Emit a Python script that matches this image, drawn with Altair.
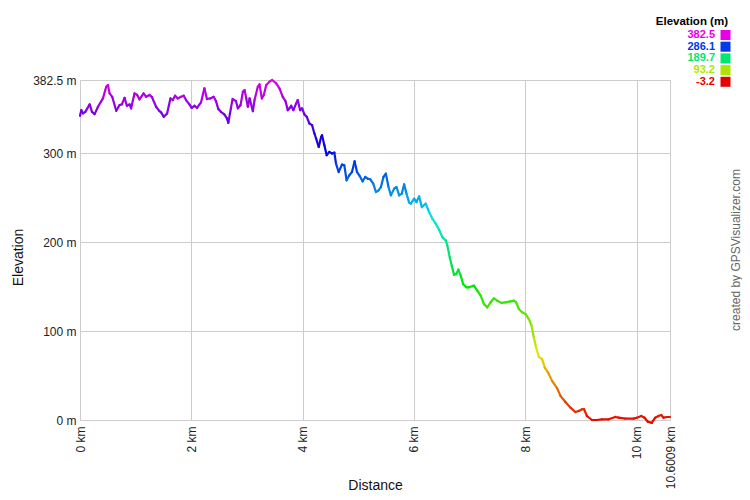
import altair as alt
import pandas as pd
import numpy as np

dist_km = [0.0, 0.023, 0.054, 0.095, 0.174, 0.215, 0.263, 0.323, 0.412, 0.471,
           0.502, 0.532, 0.579, 0.651, 0.711, 0.753, 0.801, 0.842, 0.891, 0.919,
           0.980, 1.027, 1.070, 1.142, 1.188, 1.249, 1.290, 1.367, 1.428, 1.457,
           1.505, 1.565, 1.625, 1.667, 1.708, 1.756, 1.815, 1.864, 1.905, 1.966,
           2.007, 2.056, 2.102, 2.174, 2.235, 2.281, 2.342, 2.401, 2.443, 2.486,
           2.532, 2.593, 2.640, 2.665, 2.711, 2.742, 2.801, 2.837, 2.885, 2.927,
           2.957, 2.987, 3.016, 3.047, 3.106, 3.136, 3.195, 3.226, 3.267, 3.303,
           3.346, 3.405, 3.453, 3.525, 3.584, 3.643, 3.692, 3.733, 3.763, 3.794,
           3.835, 3.884, 3.912, 3.955, 3.991, 4.032, 4.074, 4.122, 4.170, 4.211,
           4.242, 4.289, 4.332, 4.349, 4.391, 4.432, 4.480, 4.529, 4.570, 4.600,
           4.647, 4.708, 4.749, 4.790, 4.839, 4.887, 4.934, 4.977, 5.018, 5.077,
           5.125, 5.167, 5.215, 5.269, 5.317, 5.364, 5.407, 5.453, 5.496, 5.543,
           5.586, 5.645, 5.686, 5.735, 5.783, 5.824, 5.866, 5.914, 5.944, 6.004,
           6.045, 6.093, 6.142, 6.213, 6.272, 6.332, 6.392, 6.452, 6.511, 6.572,
           6.600, 6.643, 6.679, 6.720, 6.762, 6.797, 6.841, 6.882, 6.941, 6.989,
           7.079, 7.138, 7.199, 7.258, 7.317, 7.378, 7.437, 7.496, 7.575, 7.647,
           7.737, 7.796, 7.837, 7.885, 7.945, 8.005, 8.065, 8.113, 8.154, 8.195,
           8.244, 8.303, 8.351, 8.410, 8.482, 8.572, 8.633, 8.722, 8.812, 8.901,
           8.961, 9.020, 9.056, 9.109, 9.199, 9.289, 9.378, 9.498, 9.618, 9.677,
           9.798, 9.946, 10.005, 10.084, 10.143, 10.203, 10.274, 10.335, 10.394, 10.444,
           10.484, 10.544, 10.6009]

elev_m = [342.2, 348.6, 344.9, 346.7, 355.1, 346.7, 344.1, 352.4, 361.8, 374.9,
          376.8, 367.5, 363.6, 347.9, 354.3, 355.1, 362.5, 353.5, 355.1, 350.6,
          367.5, 365.6, 360.7, 367.5, 363.6, 365.6, 363.6, 352.4, 347.5, 346.0,
          341.1, 344.9, 361.8, 359.9, 364.8, 361.8, 363.6, 364.8, 359.9, 355.1,
          351.2, 353.5, 351.2, 357.3, 373.1, 361.1, 361.8, 363.6, 358.8, 349.8,
          346.7, 343.8, 339.3, 334.3, 350.6, 361.1, 358.8, 350.6, 354.3, 369.3,
          371.2, 361.8, 352.4, 361.8, 347.5, 359.9, 374.9, 377.6, 361.8, 365.6,
          376.9, 380.6, 382.5, 378.8, 373.1, 363.6, 358.8, 348.6, 350.6, 353.5,
          348.6, 356.2, 359.9, 348.6, 350.6, 343.8, 341.1, 333.6, 331.7, 322.4,
          316.7, 307.2, 318.5, 320.4, 309.2, 297.9, 301.6, 299.8, 300.9, 288.5,
          279.0, 287.4, 286.6, 269.7, 275.3, 279.0, 291.1, 279.0, 275.3, 268.5,
          273.4, 271.6, 270.8, 265.9, 256.5, 258.4, 262.1, 273.4, 277.2, 262.1,
          252.7, 260.3, 262.1, 252.7, 254.7, 265.1, 254.7, 244.5, 243.4, 249.0,
          245.2, 251.6, 239.5, 243.4, 233.9, 226.4, 220.8, 214.0, 205.7, 202.0,
          196.3, 183.1, 173.8, 163.3, 164.4, 169.2, 162.5, 153.1, 149.3, 149.3,
          151.2, 145.6, 139.9, 130.5, 126.7, 132.4, 136.9, 134.3, 131.7, 132.4,
          133.5, 134.3, 132.4, 124.9, 121.1, 119.3, 113.6, 106.1, 92.9, 81.6,
          71.1, 68.5, 59.0, 53.4, 44.0, 35.8, 27.1, 20.3, 13.9, 9.0,
          10.2, 12.1, 12.1, 4.5, 0.0, 0.0, 0.8, 0.8, 3.4, 2.6,
          1.5, 1.5, 2.6, 4.5, 2.6, -1.9, -3.2, 2.6, 4.5, 5.6,
          2.6, 3.4, 3.4]

x_ticks = [0, 2, 4, 6, 8, 10, 10.6009]
y_ticks = [0, 100, 200, 300, 382.5]
legend_vals = [382.5, 286.1, 189.7, 93.2, -3.2]
hue_colors = ["#e60000", "#e6e600", "#00e600", "#00e6e6", "#0000e6", "#e600e6"]

FONT = "Liberation Sans"

# ---- tables ----
seg = pd.DataFrame({
    "x": dist_km[:-1], "x2": dist_km[1:],
    "y": elev_m[:-1], "y2": elev_m[1:],
})
seg["mid"] = (seg["y"] + seg["y2"]) / 2

lo, hi = min(legend_vals), max(legend_vals)
color_scale = alt.Scale(domain=list(np.linspace(lo, hi, len(hue_colors))),
                        range=hue_colors, interpolate="rgb")

legend_df = pd.DataFrame({"val": legend_vals, "row": list(range(len(legend_vals)))})
legend_df["label"] = [f"{v:.1f}" for v in legend_vals]

# ---- profile ----
profile = alt.Chart(seg).mark_rule(strokeWidth=2.2, strokeCap="round").encode(
    x=alt.X("x:Q",
            scale=alt.Scale(domain=[0, 10.6009], nice=False, zero=False),
            axis=alt.Axis(values=x_ticks, labelExpr="datum.value + ' km'",
                          labelAngle=270, labelPadding=6, labelFlush=False,
                          labelOverlap=False, ticks=False,
                          labelFont=FONT, labelFontSize=12, labelColor="#222",
                          grid=True, gridColor="#cccccc", domainColor="#cccccc",
                          title="Distance", titleFont=FONT, titleFontSize=14,
                          titleFontWeight="normal", titleColor="#111",
                          titleY=72, titleBaseline="bottom")),
    x2="x2:Q",
    y=alt.Y("y:Q",
            scale=alt.Scale(domain=[0, 382.5], nice=False, zero=False),
            axis=alt.Axis(values=y_ticks, labelExpr="datum.value + ' m'",
                          labelPadding=4, labelFlush=False, labelOverlap=False,
                          ticks=False, labelFont=FONT, labelFontSize=12,
                          labelColor="#222",
                          grid=True, gridColor="#cccccc", domainColor="#cccccc",
                          title="Elevation", titleFont=FONT, titleFontSize=14,
                          titleFontWeight="normal", titleColor="#111",
                          titleX=-55, titleY=177, titleAngle=270,
                          titleBaseline="bottom", titleAlign="center")),
    y2="y2:Q",
    color=alt.Color("mid:Q", scale=color_scale, legend=None),
)

# ---- hand-built legend ----
legend_title = alt.Chart(pd.DataFrame({"t": ["Elevation (m)"]})).mark_text(
    font=FONT, fontSize=11.5, fontWeight="bold", align="right", baseline="middle",
    color="#000").encode(text="t:N", x=alt.value(648), y=alt.value(-58))

legend_base = alt.Chart(legend_df).transform_calculate(
    py="-45 + 11.7 * datum.row")

legend_text = legend_base.mark_text(
    font=FONT, fontSize=11, fontWeight="bold", align="right", baseline="middle"
).encode(
    text="label:N", x=alt.value(635),
    y=alt.Y("py:Q", scale=None, axis=None),
    color=alt.Color("val:Q", scale=color_scale, legend=None),
)

legend_sq = legend_base.mark_square(size=100, opacity=1, filled=True).encode(
    x=alt.value(645.5),
    y=alt.Y("py:Q", scale=None, axis=None),
    color=alt.Color("val:Q", scale=color_scale, legend=None),
)

credit = alt.Chart(pd.DataFrame({"t": ["created by GPSVisualizer.com"]})).mark_text(
    font=FONT, fontSize=12, angle=270, align="center", baseline="middle",
    color="#666666").encode(text="t:N", x=alt.value(656), y=alt.value(170))

chart = alt.layer(profile, legend_title, legend_text, legend_sq, credit).resolve_scale(
    y="independent"
).properties(
    width=590, height=340,
    autosize=alt.AutoSizeParams(type="none"),
    padding={"left": 72, "top": 72, "right": 72, "bottom": 72},
    background="white",
).configure_view(strokeWidth=0)

chart.save("out.html", embed_options={"renderer": "svg", "actions": False})
